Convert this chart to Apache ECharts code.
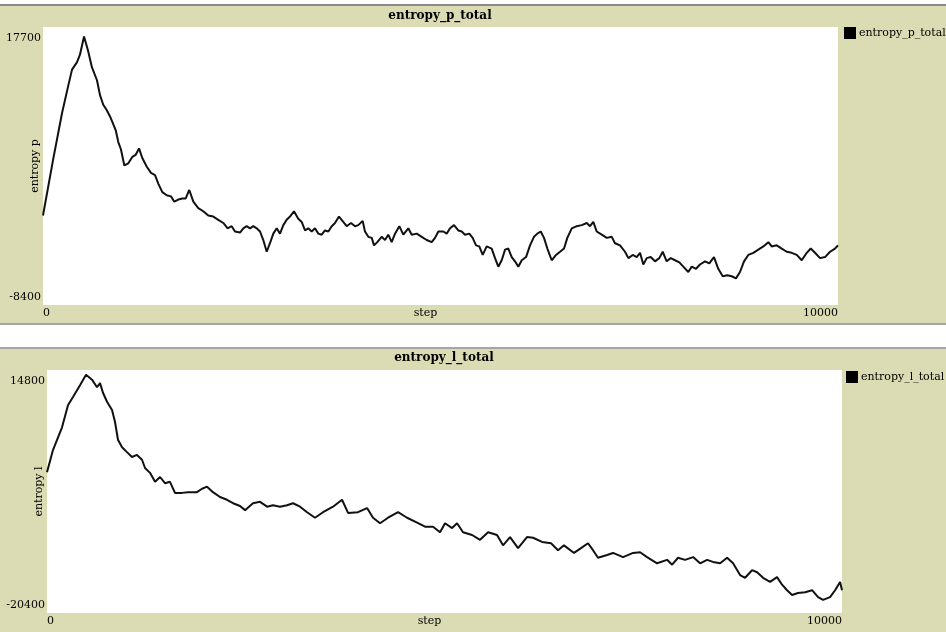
<!DOCTYPE html>
<html>
<head>
<meta charset="utf-8">
<script src="https://cdn.jsdelivr.net/npm/echarts@6/dist/echarts.min.js"></script>
<style>
  html, body { margin: 0; padding: 0; background: #fff; }
  #chart { width: 946px; height: 632px; }
</style>
</head>
<body>
<div id="chart"></div>
<script>
// entropy_p_total
const pSteps = [0,126,239,315,365,428,465,516,566,616,679,
  717,758,801,843,872,915,947,981,1023,1073,1123,1166,1208,1249,1304,1358,1409,1450,1501,1556,
  1610,1652,1702,1752,1795,1840,1891,1953,2016,2079,2142,2205,2268,2323,2373,2415,
  2478,2520,2562,2604,2645,2688,2730,2771,2814,2855,2897,2940,2981,3023,3065,3107,3157,3211,3254,3296,
  3337,3380,3421,3463,3506,3547,3589,3632,3673,3723,3777,3820,3874,3925,3966,4021,4050,4092,4135,4164,
  4205,4260,4302,4343,4386,4428,4482,4532,4595,4638,4701,4764,4826,4889,4931,4973,
  5035,5078,5120,5170,5224,5267,5308,5362,5405,5447,5488,5531,5581,5644,5686,5727,5770,5812,5853,5896,
  5937,5979,6022,6076,6126,6176,6218,6261,6302,6344,6399,6453,6504,6554,6595,6651,6714,6777,6840,6881,
  6922,6965,7028,7091,7154,7195,7258,7321,7363,7418,7468,7510,
  7551,7594,7644,7698,7752,7795,7845,7896,7950,8004,8054,8117,8160,8214,8264,8327,8381,8440,8494,8550,
  8608,8663,8717,8767,8818,8872,8935,8998,9061,9124,9166,9229,9292,9355,9418,9481,9544,9607,9657,9711,
  9774,9837,9900,9963,10000];
const pValues = [0,5200,9600,12100,13700,14400,15100,16800,15500,13900,12700,
  11300,10400,9900,9300,8800,8000,6900,6200,4700,4900,5500,5700,6300,5400,4600,4000,3800,3000,2200,1900,
  1800,1300,1500,1600,1600,2400,1300,700,400,0,-100,-400,-700,-1200,-1000,-1500,
  -1600,-1200,-1000,-1200,-1000,-1200,-1500,-2300,-3400,-2600,-1700,-1200,-1700,-900,-400,-100,400,-300,-600,-1400,
  -1200,-1500,-1200,-1700,-1800,-1400,-1500,-1000,-700,-100,-600,-1000,-700,-1000,-900,-500,-1500,-2000,-2100,-2800,
  -2500,-2000,-2300,-1800,-2500,-1700,-1000,-1800,-1200,-1800,-1700,-2000,-2300,-2500,-2100,-1500,
  -1500,-1700,-1200,-900,-1400,-1500,-1800,-1700,-2100,-2800,-2900,-3700,-2900,-3100,-4000,-4800,-4200,-3200,-3100,-3900,
  -4300,-4800,-4200,-3900,-2800,-2000,-1700,-1500,-2100,-3100,-4200,-3700,-3400,-3100,-2100,-1200,-1000,-900,-700,-1000,
  -600,-1500,-1800,-2100,-2000,-2600,-2800,-3400,-4000,-3700,-3900,-3500,
  -4600,-4000,-3900,-4300,-4000,-3400,-4300,-4000,-4200,-4400,-4800,-5300,-4800,-5000,-4600,-4300,-4500,-3900,-5000,-5700,
  -5600,-5700,-5900,-5300,-4300,-3700,-3500,-3200,-2900,-2500,-2900,-2800,-3100,-3400,-3500,-3700,-4200,-3500,-3100,-3500,
  -4000,-3900,-3400,-3100,-2800];

// entropy_l_total
const lSteps = [0,75,189,264,327,415,491,566,629,667,704,755,818,855,893,944,1006,1069,1132,1195,
  1233,1296,1359,1422,1484,1547,1610,1698,1774,1887,1950,2013,2088,2176,2264,2340,2428,2491,2591,2680,
  2768,2843,2931,3019,3095,3183,3271,3371,3472,3598,3711,3787,3912,4026,4101,4189,4290,4416,4529,4655,
  4755,4856,4944,5007,5095,5158,5233,5347,5447,5548,5661,5736,5825,5925,6038,6114,6227,6340,6428,6503,
  6629,6717,6805,6868,6931,7045,7120,7246,7372,7460,7548,7674,7800,7863,7938,8026,8127,8215,8303,8378,
  8467,8555,8630,8718,8781,8869,8932,9007,9095,9183,9246,9309,9372,9447,9536,9624,9699,9762,9850,9913,
  9976,10000];
const lValues = [0,3200,6500,9700,10900,12600,14100,13400,12300,12900,11500,10200,9000,7300,4700,3600,2900,2200,2500,1800,
  600,-100,-1400,-700,-1600,-1400,-3000,-3000,-2900,-2900,-2400,-2100,-2900,-3600,-4000,-4500,-4900,-5500,-4500,-4300,
  -5000,-4800,-5000,-4800,-4500,-5000,-5800,-6600,-5800,-5000,-4000,-5900,-5800,-5200,-6600,-7400,-6600,-5800,-6600,-7300,
  -7900,-7900,-8700,-7400,-8100,-7400,-8700,-9100,-9800,-8700,-9100,-10600,-9400,-11000,-9400,-9500,-10100,-10300,-11300,-10600,
  -11700,-11000,-10300,-11300,-12400,-12000,-11700,-12300,-11700,-11600,-12300,-13200,-12700,-13400,-12400,-12700,-12300,-13200,-12700,-13000,
  -13200,-12400,-13200,-14900,-15300,-14200,-14500,-15300,-15900,-15200,-16300,-17100,-17800,-17500,-17400,-17100,-18100,-18500,-18100,-17100,
  -15900,-17100];

const xRange = [0, 10000];
const pRange = [-8400, 17700];
const lRange = [-20400, 14800];

const FONT = 'DejaVu Serif';
const PANEL = '#dcdcb4';

const zip = (xs, ys) => xs.map((x, i) => [x, ys[i]]);

function yAxisFor(idx, range, name) {
  const [min, max] = range;
  return {
    gridIndex: idx, type: 'value', min: min, max: max,
    name: name, nameLocation: 'middle', nameGap: 2, nameMoveOverlap: false,
    nameTextStyle: { fontFamily: FONT, fontSize: 11, color: '#000' },
    axisLine: { show: false }, axisTick: { show: false }, splitLine: { show: false },
    axisLabel: {
      showMinLabel: true, showMaxLabel: true, margin: 2,
      fontFamily: FONT, fontSize: 11, color: '#000',
      formatter: v => v === max ? '{hi|' + v + '}' : (v === min ? '{lo|' + v + '}' : ''),
      rich: {
        hi: { fontFamily: FONT, fontSize: 11, color: '#000', padding: [22, 0, 0, 0] },
        lo: { fontFamily: FONT, fontSize: 11, color: '#000', padding: [0, 0, 16, 0] }
      }
    }
  };
}

function xAxisFor(idx) {
  return {
    gridIndex: idx, type: 'value', min: xRange[0], max: xRange[1], interval: 10000,
    name: 'step', nameLocation: 'middle', nameGap: 3, nameMoveOverlap: false,
    nameTextStyle: { fontFamily: FONT, fontSize: 11, color: '#000', verticalAlign: 'top', padding: [0, 30, 0, 0] },
    axisLine: { show: false }, axisTick: { show: false }, splitLine: { show: false },
    axisLabel: {
      margin: 3, fontFamily: FONT, fontSize: 11, color: '#000',
      alignMinLabel: 'left', alignMaxLabel: 'right',
      formatter: v => String(v)
    }
  };
}

function lineSeries(name, idx, xs, ys) {
  return {
    name: name, type: 'line', xAxisIndex: idx, yAxisIndex: idx,
    data: zip(xs, ys), showSymbol: false, animation: false,
    itemStyle: { color: '#000' },
    lineStyle: { color: '#111', width: 2 }
  };
}

const chart = echarts.init(document.getElementById('chart'));
chart.setOption({
  animation: false,
  backgroundColor: PANEL,
  graphic: [
    { type: 'rect', shape: { x: 0, y: 0, width: 946, height: 4 }, style: { fill: '#fff' } },
    { type: 'rect', shape: { x: 0, y: 4, width: 946, height: 2 }, style: { fill: '#8a8a8a' } },
    { type: 'rect', shape: { x: 0, y: 323, width: 946, height: 2 }, style: { fill: '#a5a5a5' } },
    { type: 'rect', shape: { x: 0, y: 325, width: 946, height: 22 }, style: { fill: '#fff' } },
    { type: 'rect', shape: { x: 0, y: 347, width: 946, height: 2 }, style: { fill: '#a5a5a5' } }
  ],
  title: [
    { text: 'entropy_p_total', left: 440, top: 10, textAlign: 'center', padding: 0,
      textStyle: { fontFamily: FONT, fontSize: 12, fontWeight: 'bold', color: '#000' } },
    { text: 'entropy_l_total', left: 444, top: 352, textAlign: 'center', padding: 0,
      textStyle: { fontFamily: FONT, fontSize: 12, fontWeight: 'bold', color: '#000' } }
  ],
  legend: [
    { data: ['entropy_p_total'], left: 844, top: 27, padding: 0, icon: 'rect', itemWidth: 12, itemHeight: 12, itemGap: 3,
      textStyle: { fontFamily: FONT, fontSize: 11, color: '#000', padding: [0, 0, 0, -2] } },
    { data: ['entropy_l_total'], left: 846, top: 371, padding: 0, icon: 'rect', itemWidth: 12, itemHeight: 12, itemGap: 3,
      textStyle: { fontFamily: FONT, fontSize: 11, color: '#000', padding: [0, 0, 0, -2] } }
  ],
  grid: [
    { left: 43, top: 27, width: 795, height: 278, show: true, backgroundColor: '#fff', borderWidth: 0,
      containLabel: false, outerBoundsMode: 'none' },
    { left: 47, top: 370, width: 795, height: 243, show: true, backgroundColor: '#fff', borderWidth: 0,
      containLabel: false, outerBoundsMode: 'none' }
  ],
  xAxis: [xAxisFor(0), xAxisFor(1)],
  yAxis: [yAxisFor(0, pRange, 'entropy p'), yAxisFor(1, lRange, 'entropy l')],
  series: [
    lineSeries('entropy_p_total', 0, pSteps, pValues),
    lineSeries('entropy_l_total', 1, lSteps, lValues)
  ]
});
</script>
</body>
</html>
